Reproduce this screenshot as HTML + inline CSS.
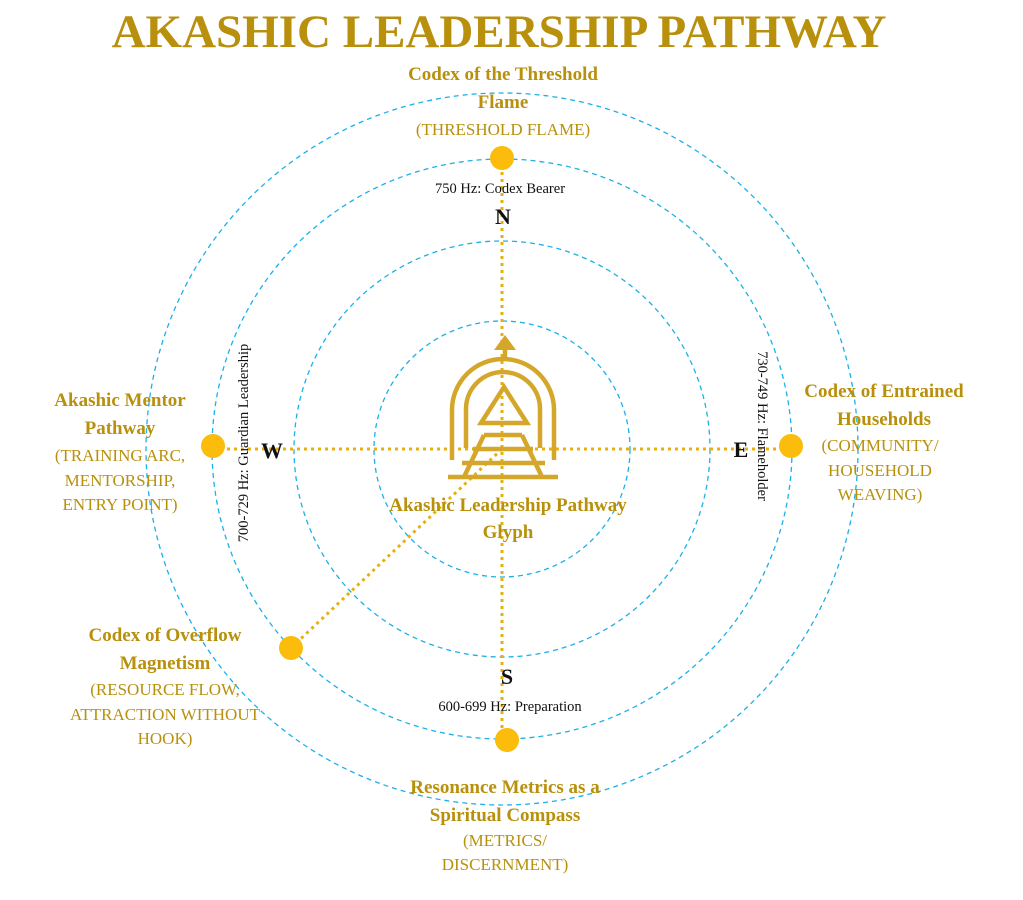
<!DOCTYPE html>
<html><head><meta charset="utf-8"><style>
body{margin:0;background:#fff;}
svg{display:block;}
text{font-family:"Liberation Serif",serif;}
.g{fill:#b8900c;font-weight:bold;font-size:19px;}
.c{fill:#b8900c;font-size:17px;}
.k{fill:#111;font-size:14.5px;}
.d{fill:#111;font-weight:bold;font-size:22px;}
</style></head><body>
<svg width="1023" height="900" viewBox="0 0 1023 900">
<text x="499" y="47" text-anchor="middle" style="fill:#b8900c;font-weight:bold;font-size:47px">AKASHIC LEADERSHIP PATHWAY</text>
<g fill="none" stroke="#1cb0e8" stroke-width="1.3" stroke-dasharray="5,4">
<circle cx="502" cy="449" r="128"/>
<circle cx="502" cy="449" r="208"/>
<circle cx="502" cy="449" r="290"/>
<circle cx="502" cy="449" r="356"/>
</g>
<g stroke="#e8b00c" stroke-width="3" stroke-dasharray="3,4">
<line x1="502" y1="158" x2="502" y2="740"/>
<line x1="213" y1="449" x2="790" y2="449"/>
<line x1="502" y1="449" x2="291" y2="648"/>
</g>
<g fill="#fbbc0c">
<circle cx="502" cy="158" r="12"/>
<circle cx="213" cy="446" r="12"/>
<circle cx="791" cy="446" r="12"/>
<circle cx="291" cy="648" r="12"/>
<circle cx="507" cy="740" r="12"/>
</g>
<!-- glyph -->
<g fill="none" stroke="#d4a62a" stroke-width="4.5">
<path d="M452 460 V410 A51 51 0 0 1 554 410 V460"/>
<path d="M466 448 V409 A37 37 0 0 1 540 409 V448"/>
<path d="M505 358 V348"/>
<path d="M481 423 L504 387 L527 423 Z"/>
<path d="M484 435 H522 M473 449 H533 M462 463 H545 M448 477 H558"/>
<path d="M484 435 L464 477 M522 435 L542 477"/>
</g>
<path d="M494 350 L505 335 L516 350 Z" fill="#d4a62a"/>
<text x="508" y="511" text-anchor="middle" class="g">Akashic Leadership Pathway</text>
<text x="508" y="538" text-anchor="middle" class="g">Glyph</text>
<text x="503" y="80" text-anchor="middle" class="g">Codex of the Threshold</text>
<text x="503" y="108" text-anchor="middle" class="g">Flame</text>
<text x="503" y="135" text-anchor="middle" class="c">(THRESHOLD FLAME)</text>
<text x="500" y="193" text-anchor="middle" class="k">750 Hz: Codex Bearer</text>
<text x="503" y="224" text-anchor="middle" class="d">N</text>
<text x="272" y="458" text-anchor="middle" class="d">W</text>
<text x="741" y="457" text-anchor="middle" class="d">E</text>
<text x="507" y="684" text-anchor="middle" class="d">S</text>
<text x="510" y="711" text-anchor="middle" class="k">600-699 Hz: Preparation</text>
<text x="120" y="406" text-anchor="middle" class="g">Akashic Mentor</text>
<text x="120" y="434" text-anchor="middle" class="g">Pathway</text>
<text x="120" y="461" text-anchor="middle" class="c">(TRAINING ARC,</text>
<text x="120" y="486" text-anchor="middle" class="c">MENTORSHIP,</text>
<text x="120" y="510" text-anchor="middle" class="c">ENTRY POINT)</text>
<text x="884" y="397" text-anchor="middle" class="g">Codex of Entrained</text>
<text x="884" y="425" text-anchor="middle" class="g">Households</text>
<text x="880" y="451" text-anchor="middle" class="c">(COMMUNITY/</text>
<text x="880" y="476" text-anchor="middle" class="c">HOUSEHOLD</text>
<text x="880" y="500" text-anchor="middle" class="c">WEAVING)</text>
<text x="165" y="641" text-anchor="middle" class="g">Codex of Overflow</text>
<text x="165" y="669" text-anchor="middle" class="g">Magnetism</text>
<text x="165" y="695" text-anchor="middle" class="c">(RESOURCE FLOW,</text>
<text x="165" y="720" text-anchor="middle" class="c">ATTRACTION WITHOUT</text>
<text x="165" y="744" text-anchor="middle" class="c">HOOK)</text>
<text x="505" y="793" text-anchor="middle" class="g">Resonance Metrics as a</text>
<text x="505" y="821" text-anchor="middle" class="g">Spiritual Compass</text>
<text x="505" y="846" text-anchor="middle" class="c">(METRICS/</text>
<text x="505" y="870" text-anchor="middle" class="c">DISCERNMENT)</text>
<text transform="translate(248,443) rotate(-90)" text-anchor="middle" class="k">700-729 Hz: Guardian Leadership</text>
<text transform="translate(758,426) rotate(90)" text-anchor="middle" class="k">730-749 Hz: Flameholder</text>
</svg>
</body></html>
